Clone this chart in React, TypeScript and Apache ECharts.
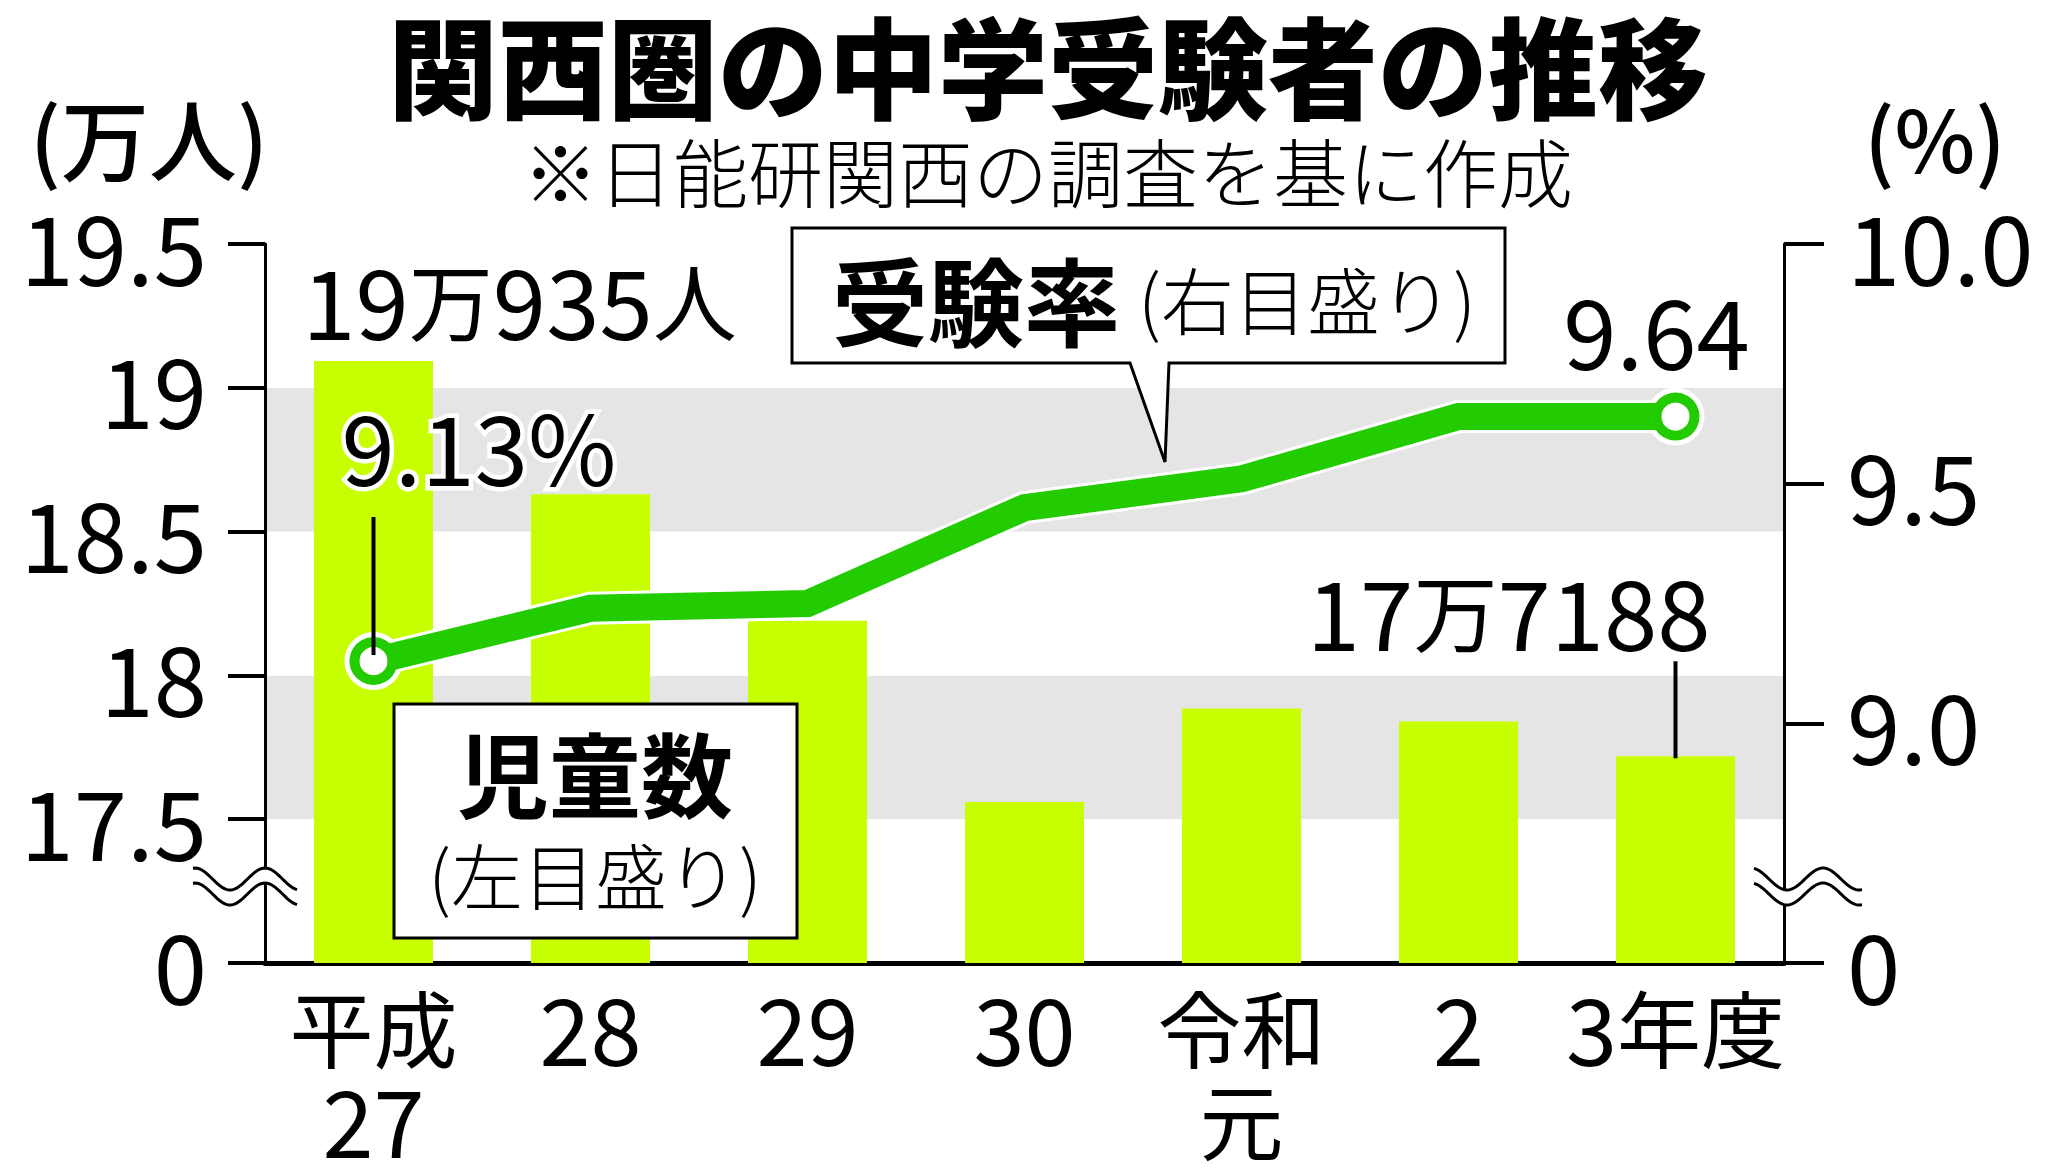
import React, { useEffect, useRef } from "react";
import * as echarts from "echarts";

// ---- data ----
const categories = ["平成\n27", "28", "29", "30", "令和\n元", "2", "3年度"];
const childrenMan = [19.0935, 18.63, 18.19, 17.56, 17.885, 17.84, 17.7188]; // 万人 (left axis)
const examRate = [9.13, 9.24, 9.25, 9.45, 9.51, 9.64, 9.64]; // % (right axis)
const leftAxisRange = [17, 19.5]; // bottom value is shown as "0" (broken axis)
const rightAxisRange = [8.5, 10.0]; // bottom value is shown as "0" (broken axis)
const axisStep = 0.5;

const titleText = "関西圏の中学受験者の推移";
const subtitleText = "※日能研関西の調査を基に作成";
const leftUnit = "(万人)";
const rightUnit = "(%)";

const NUM = "'Liberation Sans Narrow', 'Arial Narrow', 'Noto Sans CJK JP', sans-serif";
const JP = "'Noto Sans CJK JP', sans-serif";
const BAR = "#c8ff00";
const GREEN = "#22cc00";
const BAND = "#e5e5e5";

const toRich = (s: string) =>
  s
    .split("\n")
    .map((line) => line.replace(/(\d+)|([^\d]+)/g, (m, d) => (d ? `{n|${m}}` : `{c|${m}}`)))
    .join("\n");

const manLabel = (v: number, suffix: string) => {
  const man = Math.floor(v);
  const rest = Math.round((v - man) * 10000);
  return `{n|${man}}{c|万}{n|${rest}}` + (suffix ? `{c|${suffix}}` : "");
};

export default function App() {
  const ref = useRef<HTMLDivElement>(null);
  useEffect(() => {
    if (!ref.current) return;
    const chart = echarts.init(ref.current, undefined, { renderer: "svg" });
    const last = examRate.length - 1;
    const option: any = {
      animation: false,
      backgroundColor: "#ffffff",
      grid: { left: 265, right: 265, top: 244, bottom: 209, containLabel: false },
      xAxis: {
        type: "category",
        data: categories,
        boundaryGap: true,
        axisLine: { show: true, lineStyle: { color: "#000", width: 5 } },
        axisTick: { show: false },
        axisLabel: {
          margin: 16,
          interval: 0,
          formatter: (v: string) => toRich(v),
          rich: {
            n: { fontFamily: NUM, fontSize: 92, lineHeight: 92, color: "#000", verticalAlign: "middle" },
            c: { fontFamily: JP, fontSize: 84, lineHeight: 92, color: "#000", verticalAlign: "middle" },
          },
        },
      },
      yAxis: [
        {
          type: "value",
          position: "left",
          min: leftAxisRange[0],
          max: leftAxisRange[1],
          interval: axisStep,
          axisLine: { show: true, lineStyle: { color: "#000", width: 3 } },
          axisTick: { show: true, length: 37, lineStyle: { color: "#000", width: 4 } },
          splitLine: { show: false },
          splitArea: { show: true, areaStyle: { color: ["#ffffff", BAND] } },
          axisLabel: {
            margin: 58,
            fontFamily: NUM,
            fontSize: 96,
            lineHeight: 96,
            color: "#000",
            padding: [0, 0, 14, 0],
            formatter: (v: number) => (v === leftAxisRange[0] ? "0" : String(v)),
          },
        },
        {
          type: "value",
          position: "right",
          min: rightAxisRange[0],
          max: rightAxisRange[1],
          interval: axisStep,
          axisLine: { show: true, lineStyle: { color: "#000", width: 3 } },
          axisTick: { show: true, length: 40, lineStyle: { color: "#000", width: 4 } },
          splitLine: { show: false },
          splitArea: { show: false },
          axisLabel: {
            margin: 63,
            fontFamily: NUM,
            fontSize: 96,
            lineHeight: 96,
            color: "#000",
            padding: [0, 0, 14, 0],
            formatter: (v: number) => (v === rightAxisRange[0] ? "0" : v.toFixed(1)),
          },
        },
      ],
      series: [
        {
          type: "bar",
          yAxisIndex: 0,
          data: childrenMan,
          barWidth: 119,
          itemStyle: { color: BAR },
          z: 2,
          silent: true,
        },
        {
          type: "line",
          yAxisIndex: 1,
          data: examRate.map((v, i) => ({
            value: v,
            symbol: i === 0 || i === last ? "circle" : "none",
          })),
          showSymbol: true,
          showAllSymbol: true,
          symbolSize: 58,
          itemStyle: { color: "#fff", borderWidth: 0 },
          lineStyle: { color: "#fff", width: 33, join: "miter", cap: "butt" },
          z: 3,
          silent: true,
        },
        {
          type: "line",
          yAxisIndex: 1,
          data: examRate.map((v, i) => ({
            value: v,
            symbol: i === 0 || i === last ? "circle" : "none",
          })),
          showSymbol: true,
          showAllSymbol: true,
          symbolSize: 38,
          itemStyle: { color: "#fff", borderColor: GREEN, borderWidth: 10 },
          lineStyle: { color: GREEN, width: 27, join: "miter", cap: "butt" },
          z: 4,
          silent: true,
        },
      ],
    };
    chart.setOption(option);

    // positions derived from the chart's own scales
    const barTop = (i: number) => chart.convertToPixel({ seriesIndex: 0 }, [i, childrenMan[i]]) as number[];
    const ratePt = (i: number) => chart.convertToPixel({ seriesIndex: 2 }, [i, examRate[i]]) as number[];
    const b0 = barTop(0);
    const bL = barTop(childrenMan.length - 1);
    const r0 = ratePt(0);
    const rL = ratePt(last);
    const leftX = (chart.convertToPixel({ seriesIndex: 0 }, [0, leftAxisRange[1]]) as number[])[0] - 108.5;
    const rightX = leftX + 1519;
    const baseY = (chart.convertToPixel({ seriesIndex: 0 }, [0, leftAxisRange[0]]) as number[])[1];

    const wave = (x0: number, x1: number, xPhase: number, period: number, yc: number, sign: number) => {
      const pts: number[][] = [];
      for (let x = x0; x <= x1 + 0.01; x += 2) {
        pts.push([x, yc + sign * 11 * Math.cos((2 * Math.PI * (x - xPhase)) / period)]);
      }
      return pts;
    };
    const breakMark = (x0: number, x1: number, xPhase: number, period: number, sign: number) => {
      const yc = baseY - 84;
      const up = wave(x0, x1, xPhase, period, yc, sign);
      const low = wave(x0, x1, xPhase, period, yc + 15, sign);
      return [
        { type: "polygon", z: 50, shape: { points: up.concat(low.slice().reverse()) }, style: { fill: "#fff", stroke: null } },
        { type: "polyline", z: 51, shape: { points: up }, style: { stroke: "#000", lineWidth: 3, fill: null } },
        { type: "polyline", z: 51, shape: { points: low }, style: { stroke: "#000", lineWidth: 3, fill: null } },
      ];
    };

    const numRich = {
      n: { fontFamily: NUM, fontSize: 96, fill: "#000", lineHeight: 96, verticalAlign: "middle" },
      c: { fontFamily: JP, fontSize: 84, fill: "#000", lineHeight: 96, verticalAlign: "middle" },
    };

    const graphic: any[] = [
      {
        type: "text",
        z: 100,
        x: 1048,
        y: 63,
        style: { text: titleText, font: `900 110px ${JP}`, lineHeight: 106, fill: "#000", align: "center", verticalAlign: "middle" },
      },
      {
        type: "text",
        z: 100,
        x: 1048,
        y: 169,
        style: { text: subtitleText, font: `300 75px ${JP}`, lineHeight: 75, fill: "#000", align: "center", verticalAlign: "middle" },
      },
      {
        type: "text",
        z: 100,
        x: 149,
        y: 135,
        style: { text: leftUnit, font: `500 88px ${JP}`, lineHeight: 88, fill: "#000", align: "center", verticalAlign: "middle" },
      },
      {
        type: "text",
        z: 100,
        x: 1935,
        y: 135,
        style: { text: rightUnit, font: `500 86px ${NUM}`, lineHeight: 86, fill: "#000", align: "center", verticalAlign: "middle" },
      },
      // breaks
      ...breakMark(leftX - 72, leftX + 33, leftX, 70, -1),
      ...breakMark(rightX - 30, rightX + 79, rightX + 3, 72, 1),
      // callout: exam rate
      {
        type: "polygon",
        z: 60,
        shape: {
          points: [
            [792, 228],
            [1505, 228],
            [1505, 363],
            [1169, 363],
            [1165, 462],
            [1130, 363],
            [792, 363],
          ],
        },
        style: { fill: "#fff", stroke: "#000", lineWidth: 3 },
      },
      {
        type: "text",
        z: 61,
        x: 832,
        y: 297,
        style: { text: "受験率", font: `bold 96px ${JP}`, lineHeight: 96, fill: "#000", align: "left", verticalAlign: "middle" },
      },
      {
        type: "text",
        z: 61,
        x: 1138,
        y: 297,
        style: { text: "(右目盛り)", font: `300 73px ${JP}`, lineHeight: 73, fill: "#000", align: "left", verticalAlign: "middle" },
      },
      // callout: children
      {
        type: "rect",
        z: 60,
        shape: { x: 394, y: 704, width: 403, height: 234 },
        style: { fill: "#fff", stroke: "#000", lineWidth: 3 },
      },
      {
        type: "text",
        z: 61,
        x: 595,
        y: 770,
        style: { text: "児童数", font: `bold 92px ${JP}`, lineHeight: 92, fill: "#000", align: "center", verticalAlign: "middle" },
      },
      {
        type: "text",
        z: 61,
        x: 595,
        y: 872,
        style: { text: "(左目盛り)", font: `300 72px ${JP}`, lineHeight: 72, fill: "#000", align: "center", verticalAlign: "middle" },
      },
      // data annotations
      {
        type: "text",
        z: 100,
        x: b0[0] + 146,
        y: b0[1] - 62,
        style: { text: manLabel(childrenMan[0], "人"), rich: numRich, align: "center", verticalAlign: "middle" },
      },
      {
        type: "text",
        z: 100,
        x: bL[0] + 35,
        y: bL[1] - 147,
        style: { text: manLabel(childrenMan[childrenMan.length - 1], ""), rich: numRich, align: "right", verticalAlign: "middle" },
      },
      {
        type: "line",
        z: 100,
        shape: { x1: bL[0], y1: bL[1] - 95, x2: bL[0], y2: bL[1] + 2 },
        style: { stroke: "#000", lineWidth: 4 },
      },
      {
        type: "text",
        z: 100,
        x: r0[0] - 32,
        y: r0[1] - 217,
        style: {
          text: `${examRate[0].toFixed(2)}%`,
          font: `96px ${NUM}`,
          lineHeight: 96,
          fill: "#000",
          stroke: "#fff",
          lineWidth: 9,
          align: "left",
          verticalAlign: "middle",
        },
      },
      {
        type: "line",
        z: 100,
        shape: { x1: r0[0], y1: r0[1] - 144, x2: r0[0], y2: r0[1] - 6 },
        style: { stroke: "#000", lineWidth: 4 },
      },
      {
        type: "text",
        z: 100,
        x: rL[0] - 19,
        y: rL[1] - 88,
        style: { text: examRate[last].toFixed(2), font: `96px ${NUM}`, lineHeight: 96, fill: "#000", align: "center", verticalAlign: "middle" },
      },
    ];
    chart.setOption({ graphic });

    return () => chart.dispose();
  }, []);
  return (
    <div
      ref={ref}
      style={{ position: "fixed", left: 0, top: 0, width: 2049, height: 1172, background: "#fff" }}
    />
  );
}
